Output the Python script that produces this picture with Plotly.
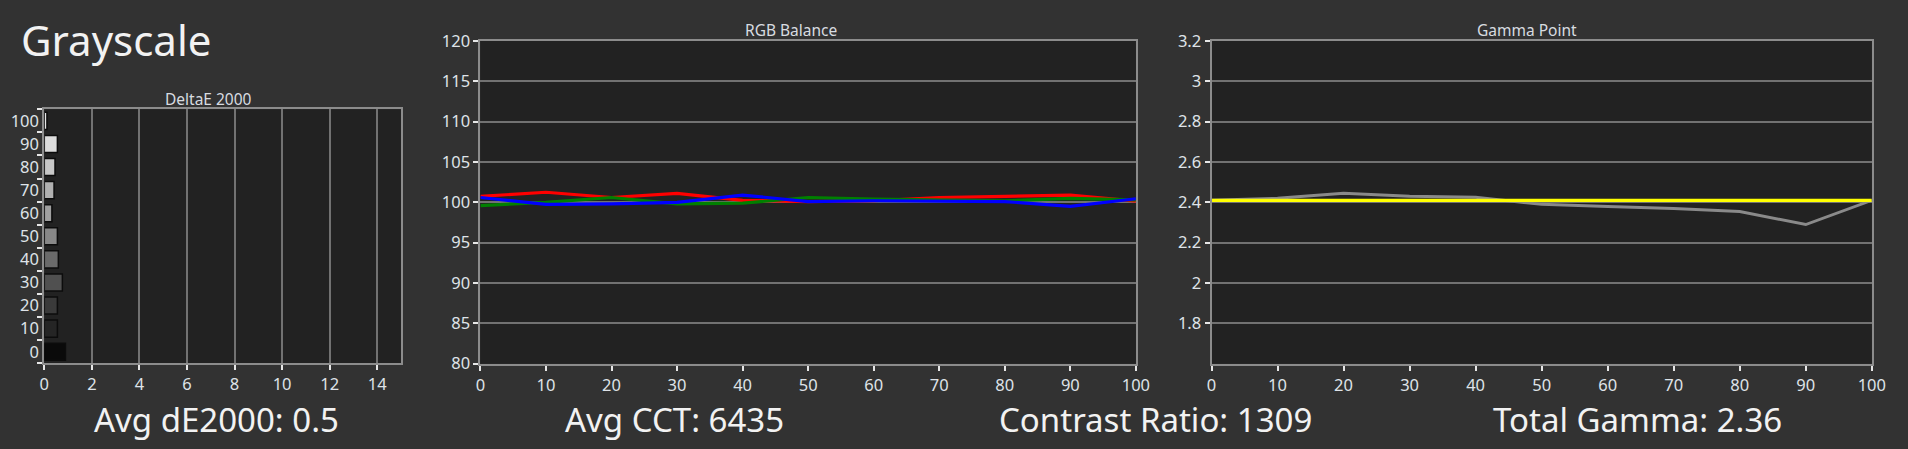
import plotly.graph_objects as go

W, H = 1908, 449

# ---------------- data ----------------
levels = [0, 10, 20, 30, 40, 50, 60, 70, 80, 90, 100]
level_labels = ["0", "10", "20", "30", "40", "50", "60", "70", "80", "90", "100"]
delta_e = [0.89, 0.55, 0.55, 0.76, 0.59, 0.55, 0.32, 0.41, 0.45, 0.55, 0.11]
bar_gray = [10, 37, 58, 80, 106, 136, 160, 176, 200, 220, 240]

red = [100.75, 101.25, 100.6, 101.1, 100.25, 100.1, 100.2, 100.6, 100.75, 100.9, 100.15]
green = [99.6, 100.0, 100.6, 99.8, 99.9, 100.6, 100.4, 100.25, 100.2, 100.5, 100.3]
blue = [100.6, 99.75, 99.8, 100.0, 100.9, 100.1, 100.2, 100.2, 100.1, 99.5, 100.45]

gamma = [2.41, 2.42, 2.445, 2.43, 2.425, 2.39, 2.38, 2.37, 2.355, 2.29, 2.41]
gamma_target = [2.41] * 11

de_ticks = [0, 2, 4, 6, 8, 10, 12, 14]
rgb_ticks = [80, 85, 90, 95, 100, 105, 110, 115, 120]
gamma_ticks = [1.8, 2.0, 2.2, 2.4, 2.6, 2.8, 3.0, 3.2]
gamma_tick_text = ["1.8", "2", "2.2", "2.4", "2.6", "2.8", "3", "3.2"]

title = "Grayscale"
panel_titles = ["DeltaE 2000", "RGB Balance", "Gamma Point"]
summaries = ["Avg dE2000: 0.5", "Avg CCT: 6435", "Contrast Ratio: 1309", "Total Gamma: 2.36"]

# ---------------- style ----------------
PAPER = "#323232"
PLOT = "#222222"
GRID = "#727272"
BORDER = "#8c8c8c"
TICKC = "#dfe3e8"
FONT = "Noto Sans"

def px_x(p):
    return p / W

def px_y(p):
    return 1 - p / H

fig = go.Figure()

# DeltaE bars
fig.add_trace(go.Bar(
    x=delta_e, y=level_labels, orientation="h",
    marker=dict(color=[f"rgb({g},{g},{g})" for g in bar_gray],
                line=dict(color="#0c0c0c", width=1.5)),
    width=0.74, xaxis="x", yaxis="y", showlegend=False,
))

# RGB lines
for vals, col in [(red, "#ff0000"), (green, "#008000"), (blue, "#0000ff")]:
    fig.add_trace(go.Scatter(x=levels, y=vals, mode="lines",
                             line=dict(color=col, width=3.2),
                             xaxis="x2", yaxis="y2", showlegend=False))

# Gamma lines
fig.add_trace(go.Scatter(x=levels, y=gamma, mode="lines",
                         line=dict(color="#8a8a8a", width=3),
                         xaxis="x3", yaxis="y3", showlegend=False))
fig.add_trace(go.Scatter(x=levels, y=gamma_target, mode="lines",
                         line=dict(color="#ffff00", width=3.2),
                         xaxis="x3", yaxis="y3", showlegend=False))

tickfont = dict(family=FONT, size=16.5, color=TICKC)
common = dict(showline=True, linecolor=BORDER, linewidth=2, mirror=True,
              ticks="outside", ticklen=5, tickcolor="#e6e6e6", tickwidth=1.5,
              tickfont=tickfont, zeroline=False, gridcolor=GRID, gridwidth=1.5,
              automargin=False)

y_plot_top, y_plot_bot = 41, 363.7

fig.update_layout(
    template="none",
    width=W, height=H, autosize=False,
    margin=dict(l=0, r=0, t=0, b=0, pad=0),
    paper_bgcolor=PAPER, plot_bgcolor=PLOT,
    xaxis=dict(domain=[px_x(44.3), px_x(401)], anchor="y", range=[0, 15],
               tickvals=de_ticks, showgrid=True, **common),
    yaxis=dict(domain=[px_y(363.3), px_y(109.3)], anchor="x", type="category",
               categoryorder="array", categoryarray=level_labels,
               range=[-0.5, 10.5], tickson="boundaries", showgrid=False,
               ticklabelstandoff=0, **common),
    xaxis2=dict(domain=[px_x(480.4), px_x(1135.9)], anchor="y2", range=[0, 100],
                tickvals=levels, showgrid=False, **common),
    yaxis2=dict(domain=[px_y(y_plot_bot), px_y(y_plot_top)], anchor="x2", range=[80, 120],
                tickvals=rgb_ticks, showgrid=True, **common),
    xaxis3=dict(domain=[px_x(1211.5), px_x(1871.8)], anchor="y3", range=[0, 100],
                tickvals=levels, showgrid=False, **common),
    yaxis3=dict(domain=[px_y(y_plot_bot), px_y(y_plot_top)], anchor="x3", range=[1.6, 3.2],
                tickvals=gamma_ticks, ticktext=gamma_tick_text, showgrid=True, **common),
)

annotations = [
    dict(text=title, x=px_x(19), y=px_y(40), xanchor="left", yanchor="middle",
         font=dict(family=FONT, size=42, color="#f2f2f2")),
    dict(text=panel_titles[0], x=px_x(208), y=px_y(99), xanchor="center", yanchor="middle",
         font=dict(family=FONT, size=15.5, color="#d8dce0")),
    dict(text=panel_titles[1], x=px_x(791), y=px_y(30), xanchor="center", yanchor="middle",
         font=dict(family=FONT, size=15.5, color="#d8dce0")),
    dict(text=panel_titles[2], x=px_x(1527), y=px_y(30), xanchor="center", yanchor="middle",
         font=dict(family=FONT, size=15.5, color="#d8dce0")),
]
for txt, cx in zip(summaries, [216, 674, 1155, 1637]):
    annotations.append(dict(text=txt, x=px_x(cx), y=px_y(419), xanchor="center", yanchor="middle",
                            font=dict(family=FONT, size=33, color="#f2f2f2")))
for a in annotations:
    a.update(xref="paper", yref="paper", showarrow=False)
fig.update_layout(annotations=annotations)

fig.write_html("out.html", config={"displayModeBar": False},
               post_script="document.body.style.margin='0';document.body.style.overflow='hidden';")
